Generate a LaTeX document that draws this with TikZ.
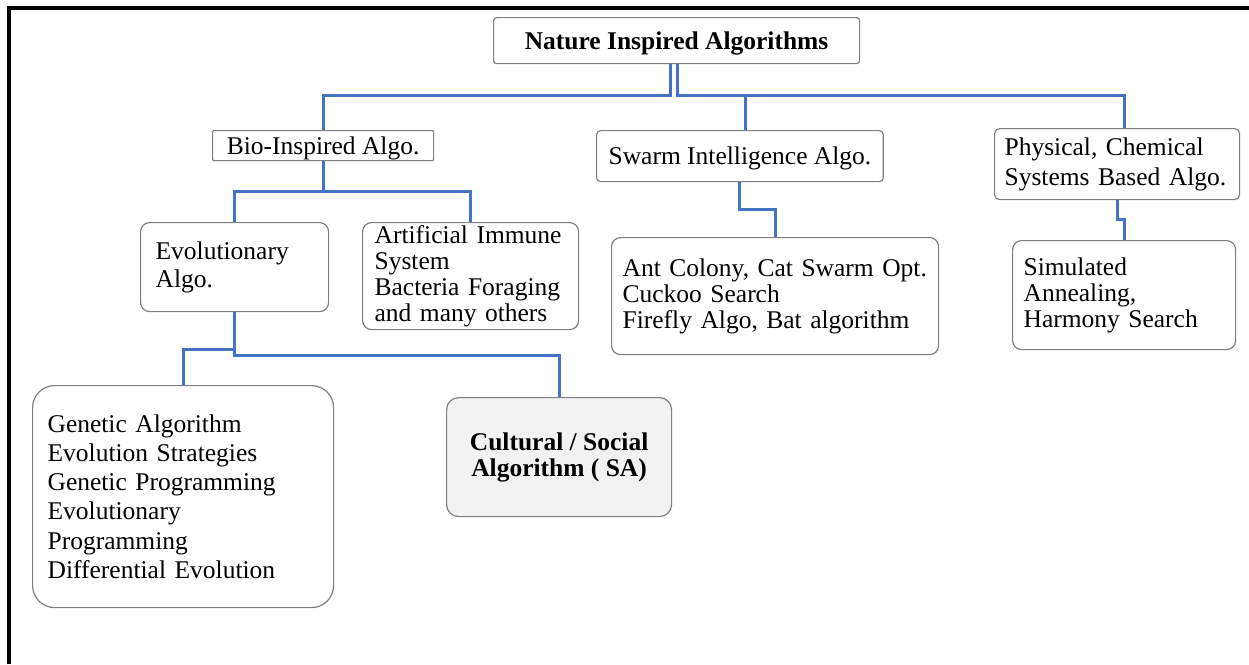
\documentclass[tikz,border=0pt]{standalone}
\usepackage{fontspec}
\setmainfont{Liberation Serif}
\definecolor{linkblue}{HTML}{4472C4}
\definecolor{boxgray}{HTML}{7F7F7F}
\definecolor{cultfill}{HTML}{F2F2F2}
\begin{document}
\begin{tikzpicture}[x=1pt,y=-1pt,
  box/.style={draw=boxgray, line width=1.2pt, inner xsep=12pt, inner ysep=0pt,
    anchor=north west, align=left, font=\fontsize{25.5}{26}\selectfont},
  link/.style={draw=linkblue, line width=3pt},
  frame/.style={draw=black, line width=3.5pt}]
\useasboundingbox (0,0) rectangle (1249,664);
\draw[frame] (9,664) -- (9,8) -- (1249,8);

% nodes
\node[box, rounded corners=3pt, minimum width=366pt, minimum height=46pt, align=center, text depth=0pt,
  font=\fontsize{25.5}{26}\selectfont\bfseries] (root) at (493,17) {Nature Inspired Algorithms};
\node[box, rounded corners=1pt, minimum width=221pt, minimum height=30pt, align=center, text depth=0pt] (bio) at (212,130) {Bio-Inspired Algo.};
\node[box, rounded corners=4pt, minimum width=286pt, minimum height=51pt, align=center, text depth=0pt] (swarm) at (596,130) {Swarm Intelligence Algo.};
\node[box, rounded corners=5pt, inner xsep=10pt, text width=225pt, minimum height=71pt,
  font=\fontsize{25.5}{30}\selectfont] (phys) at (994,128) {Physical, Chemical\\Systems Based Algo.};
\node[box, rounded corners=9pt, inner xsep=15pt, text width=158pt, minimum height=89pt,
  font=\fontsize{25.5}{28}\selectfont] (evo) at (140,222) {Evolutionary\\Algo.};
\node[box, rounded corners=9pt, inner xsep=12pt, text width=192pt, minimum height=107pt] (art) at (362,222) {Artificial Immune\\System\\Bacteria Foraging\\and many others};
\node[box, rounded corners=9pt, inner xsep=11pt, text width=305pt, minimum height=117pt] (ant) at (611,237) {Ant Colony, Cat Swarm Opt.\\Cuckoo Search\\Firefly Algo, Bat algorithm};
\node[box, rounded corners=9pt, inner xsep=11pt, text width=201pt, minimum height=109pt] (sim) at (1012,240) {Simulated\\Annealing,\\Harmony Search};
\node[box, rounded corners=22pt, inner xsep=15pt, text width=271pt, minimum height=222pt,
  font=\fontsize{25.5}{29.2}\selectfont] (gen) at (32,385) {Genetic Algorithm\\Evolution Strategies\\Genetic Programming\\Evolutionary\\Programming\\Differential Evolution};
\node[box, rounded corners=12pt, fill=cultfill, minimum width=225pt, minimum height=119pt, align=center,
  font=\fontsize{25.5}{26}\selectfont\bfseries] (cult) at (446,397) {Cultural / Social\\Algorithm ( SA)};

% junctions
\coordinate (jl) at (670,95);
\coordinate (jr) at (677,95);
\coordinate (js) at (745,95);

% connectors
\draw[link] (root.south -| jl) -- (jl) -| (bio.north);
\draw[link] (root.south -| jr) -- (jr) -| ([xshift=7pt]phys.north);
\draw[link] (js) -- (js |- swarm.north);
\draw[link] (bio.south) -- ++(0,30) -| (evo.north);
\draw[link] (bio.south) ++(0,30) -| (art.north);
\draw[link] (swarm.south) -- ++(0,27) -| (ant.north);
\draw[link] (phys.south) -- ++(0,19) -| (sim.north);
\draw[link] (evo.south) -- ++(0,43) -| (cult.north);
\draw[link] (evo.south) ++(0,37) -| (gen.north);
\end{tikzpicture}
\end{document}
